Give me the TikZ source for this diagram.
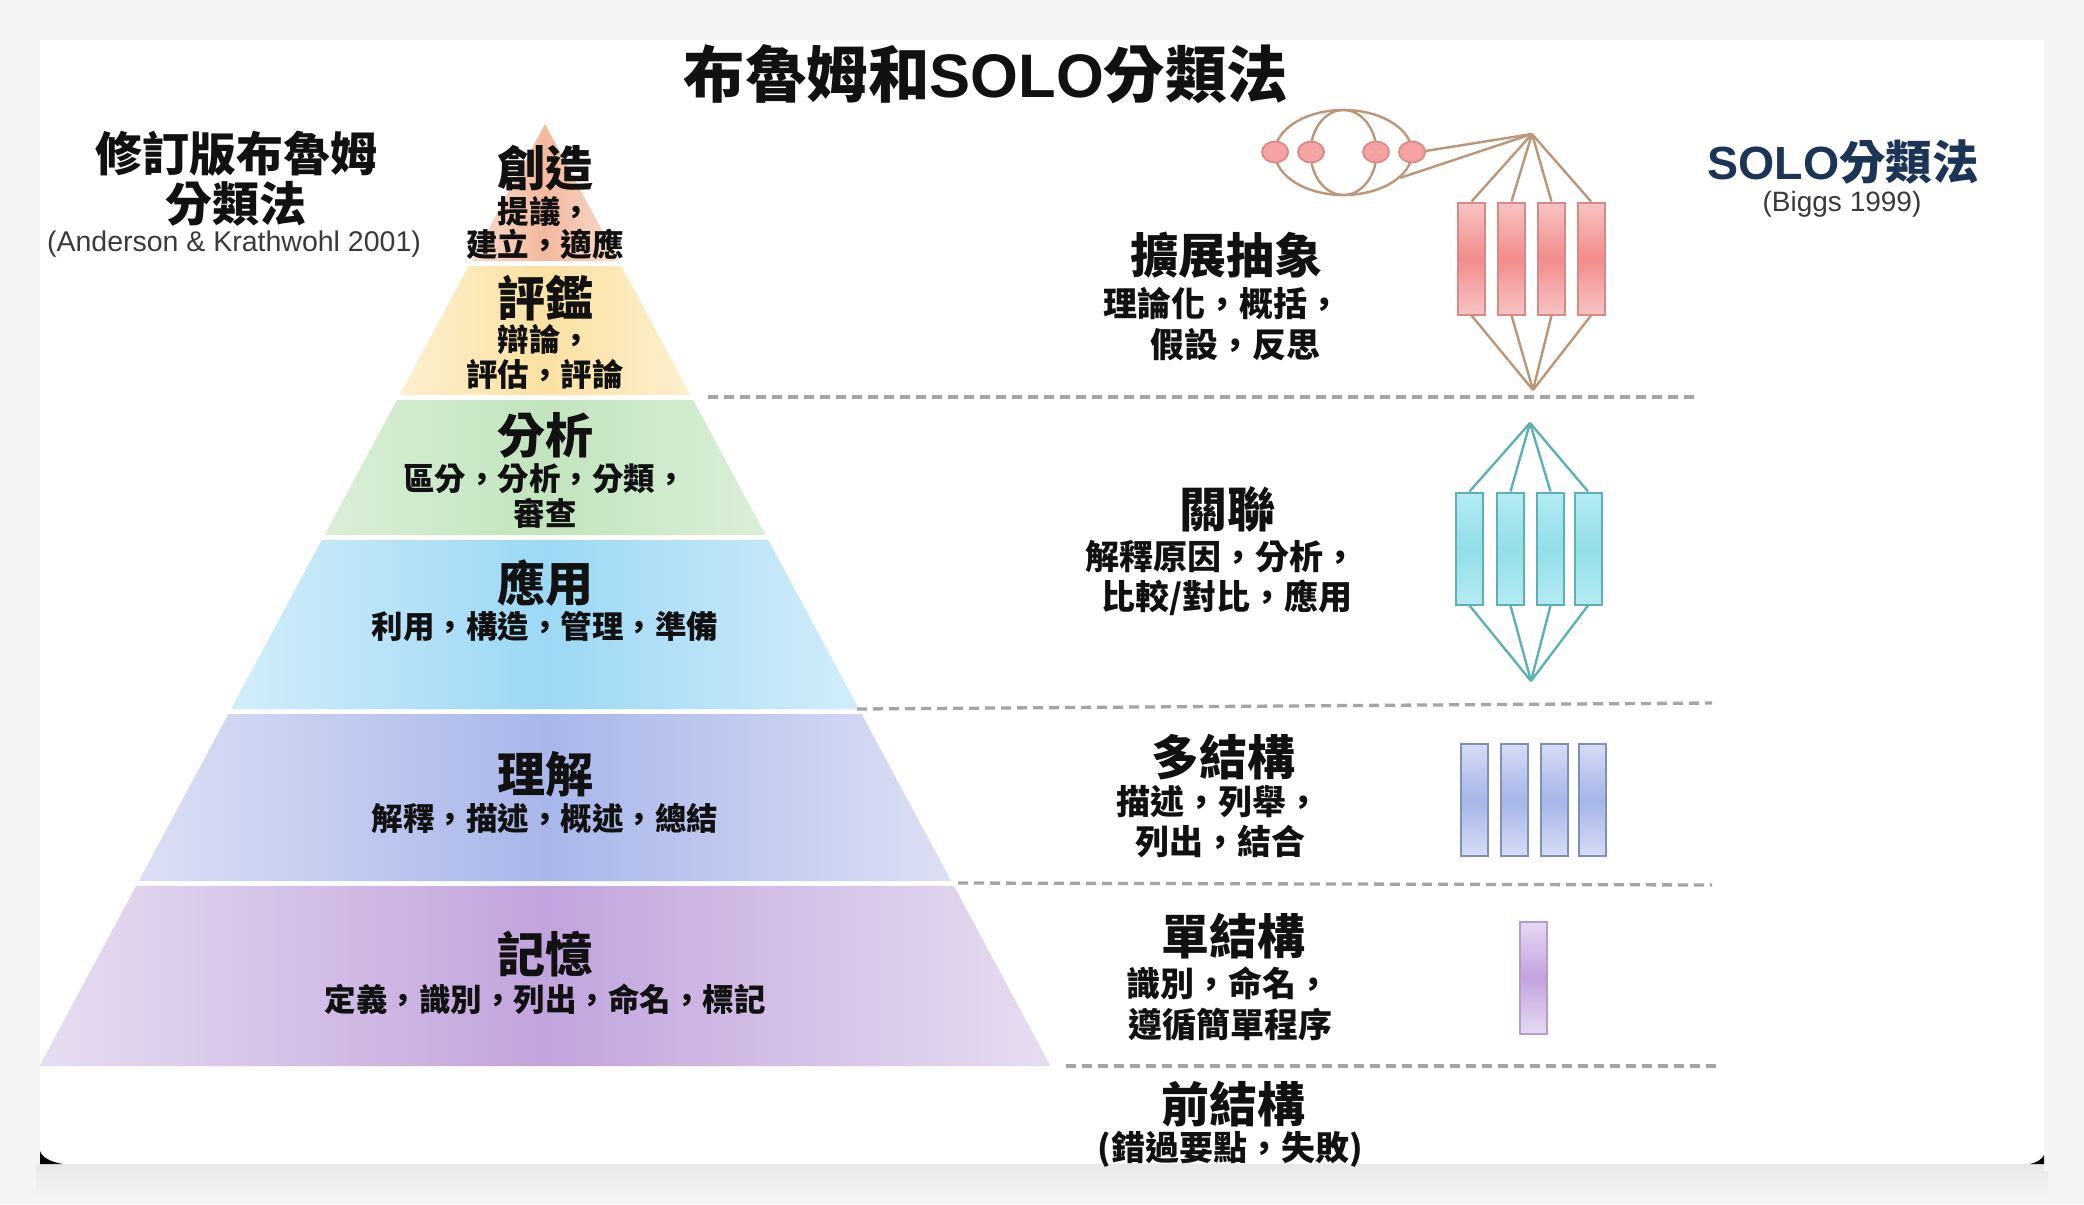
\documentclass[tikz,border=0pt]{standalone}
\usepackage{fontspec}
\setmainfont{Liberation Sans}
\newfontfamily\cjk{Noto Sans CJK TC}
\usetikzlibrary{shapes.geometric}
\definecolor{bgc}{HTML}{F4F4F4}
\definecolor{ink}{HTML}{111111}
\definecolor{creL}{HTML}{F8DCCD}\definecolor{creM}{HTML}{F3B99E}
\definecolor{evaL}{HTML}{FDF0CF}\definecolor{evaM}{HTML}{FBE1A2}
\definecolor{anaL}{HTML}{DAEFD8}\definecolor{anaM}{HTML}{C2E4BE}
\definecolor{appL}{HTML}{D2EDFA}\definecolor{appM}{HTML}{9CD8F5}
\definecolor{undL}{HTML}{DCE0F5}\definecolor{undM}{HTML}{A8B6EA}
\definecolor{remL}{HTML}{E7DDF1}\definecolor{remM}{HTML}{C1A4DD}
\definecolor{dashc}{HTML}{A5A5A5}
\definecolor{navy}{HTML}{1C3557}
\definecolor{citec}{HTML}{3A3A3A}
\definecolor{linetan}{HTML}{BC9676}
\definecolor{redE}{HTML}{F8C4C4}\definecolor{redM}{HTML}{F28C8C}\definecolor{redS}{HTML}{D88A86}
\definecolor{cyanE}{HTML}{B4EBF2}\definecolor{cyanM}{HTML}{92DEE8}\definecolor{cyanS}{HTML}{5FB0B6}
\definecolor{bluE}{HTML}{D5DCF5}\definecolor{bluM}{HTML}{A6B5E8}\definecolor{bluS}{HTML}{8090BA}
\definecolor{purE}{HTML}{E6D9F2}\definecolor{purM}{HTML}{C2A3E0}\definecolor{purS}{HTML}{B39DCB}
\begin{document}
\begin{tikzpicture}[x=1pt,y=-1pt,
  lvltitle/.style={inner sep=0pt, text=ink, font={\cjk\bfseries\fontsize{48}{50}\selectfont}},
  lvlsub/.style={inner sep=0pt, text=ink, font={\cjk\bfseries\fontsize{31.5}{33}\selectfont}},
  solosub/.style={inner sep=0pt, text=ink, font={\cjk\bfseries\fontsize{34}{36}\selectfont}},
  divider/.style={draw=dashc, line width=3.3pt, dash pattern=on 10pt off 6pt},
  bar/.style={rectangle, inner sep=0pt, line width=2pt, minimum width=27pt, minimum height=112pt},
  redbar/.style={bar, draw=redS, top color=redE, bottom color=redE, middle color=redM},
  cyanbar/.style={bar, draw=cyanS, top color=cyanE, bottom color=cyanE, middle color=cyanM},
  blubar/.style={bar, draw=bluS, top color=bluE, bottom color=bluE, middle color=bluM},
  purbar/.style={bar, draw=purS, top color=purE, bottom color=purE, middle color=purM},
  redfan/.style={draw=linetan, line width=2.4pt},
  cyanfan/.style={draw=cyanS, line width=2.4pt},
  dot/.style={ellipse, inner sep=0pt, minimum width=26pt, minimum height=21pt, draw=redS, fill=redM!80!white, line width=1.8pt}
]
\useasboundingbox (0,0) rectangle (2084,1204);
% background, shadow and card
\fill[bgc] (0,0) rectangle (2084,1204);
\shade[top color=black!9, bottom color=bgc] (36,1164) rectangle (2048,1198);
\shade[left color=black!4, right color=bgc] (2044,40) rectangle (2058,1170);
\fill[white] (40,40) rectangle (2044,1164);
\fill[black] (40,1151) -- (40,1164) -- (63,1164) .. controls (50,1162) and (42,1157) .. (40,1151) -- cycle;
\fill[black] (2044,1155) -- (2044,1164) -- (2030,1164) .. controls (2038,1162) and (2042,1159) .. (2044,1155) -- cycle;

% pyramid layers
\shade[left color=creL, right color=creL, middle color=creM] (545,124) -- (618.5,261) -- (471.5,261) -- cycle;
\shade[left color=evaL, right color=evaL, middle color=evaM] (468.8,266) -- (621.2,266) -- (690.4,395) -- (399.6,395) -- cycle;
\shade[left color=anaL, right color=anaL, middle color=anaM] (396.9,400) -- (693.1,400) -- (765.5,535) -- (324.5,535) -- cycle;
\shade[left color=appL, right color=appL, middle color=appM] (321.8,540) -- (768.2,540) -- (858.9,709) -- (231.1,709) -- cycle;
\shade[left color=undL, right color=undL, middle color=undM] (228.4,714) -- (861.6,714) -- (951.2,881) -- (138.8,881) -- cycle;
\shade[left color=remL, right color=remL, middle color=remM] (136.1,886) -- (953.9,886) -- (1050.5,1066) -- (39.5,1066) -- cycle;

% title and headings
\node[inner sep=0pt, text=ink, font={\cjk\bfseries\fontsize{61.5}{63}\selectfont}] (title) at (986,74) {布魯姆和{\rmfamily\bfseries SOLO}分類法};
\node[inner sep=0pt, text=ink, font={\cjk\bfseries\fontsize{47}{49}\selectfont}] (lhead1) at (236,154) {修訂版布魯姆};
\node[inner sep=0pt, text=ink, font={\cjk\bfseries\fontsize{47}{49}\selectfont}] (lhead2) at (236,204) {分類法};
\node[inner sep=0pt, text=citec, font={\fontsize{28.5}{30}\selectfont}] (lcite) at (234,244) {(Anderson \& Krathwohl 2001)};
\node[inner sep=0pt, text=navy, font={\cjk\bfseries\fontsize{46.5}{48}\selectfont}] (rhead) at (1843,162) {{\rmfamily\bfseries SOLO}分類法};
\node[inner sep=0pt, text=citec, font={\fontsize{28}{30}\selectfont}] (rcite) at (1842,204) {(Biggs 1999)};

% pyramid texts
\node[lvltitle] (p1t) at (545,168) {創造};
\node[lvltitle] (p2t) at (545,298) {評鑑};
\node[lvlsub] (p1a) at (545,212) {提議，};
\node[lvlsub] (p1b) at (545,244) {建立，適應};
\node[lvlsub] (p2a) at (545,339) {辯論，};
\node[lvlsub] (p2b) at (545,374) {評估，評論};
\node[lvltitle] (p3t) at (545,435) {分析};
\node[lvlsub] (p3a) at (545,479) {區分，分析，分類，};
\node[lvlsub] (p3b) at (545,513) {審查};
\node[lvltitle] (p4t) at (545,583) {應用};
\node[lvlsub] (p4a) at (545,627) {利用，構造，管理，準備};
\node[lvltitle] (p5t) at (545,774) {理解};
\node[lvlsub] (p5a) at (545,818) {解釋，描述，概述，總結};
\node[lvltitle] (p6t) at (545,954) {記憶};
\node[lvlsub] (p6a) at (545,999) {定義，識別，列出，命名，標記};

% dividers
\coordinate (d1a) at (708,397);  \coordinate (d1b) at (1700,397);
\coordinate (d2a) at (857,709);  \coordinate (d2b) at (1712,703);
\coordinate (d3a) at (958,883);  \coordinate (d3b) at (1712,885);
\coordinate (d4a) at (1066,1066);\coordinate (d4b) at (1722,1066);
\draw[divider] (d1a) -- (d1b);
\draw[divider] (d2a) -- (d2b);
\draw[divider] (d3a) -- (d3b);
\draw[divider] (d4a) -- (d4b);

% SOLO texts
\node[lvltitle] (s1t) at (1226,255) {擴展抽象};
\node[solosub] (s1a) at (1222,303) {理論化，概括，};
\node[solosub] (s1b) at (1235,345) {假設，反思};
\node[lvltitle] (s2t) at (1227,509) {關聯};
\node[solosub] (s2a) at (1221,557) {解釋原因，分析，};
\node[solosub] (s2b) at (1227,598) {比較/對比，應用};
\node[lvltitle] (s3t) at (1223,757) {多結構};
\node[solosub] (s3a) at (1218,802) {描述，列舉，};
\node[solosub] (s3b) at (1220,842) {列出，結合};
\node[lvltitle] (s4t) at (1233,936) {單結構};
\node[solosub] (s4a) at (1228,983) {識別，命名，};
\node[solosub] (s4b) at (1230,1024) {遵循簡單程序};
\node[lvltitle] (s5t) at (1233,1104) {前結構};
\node[solosub] (s5a) at (1230,1149) {(錯過要點，失敗)};

% extended abstract diagram
\node[ellipse, draw=linetan, line width=2.4pt, inner sep=0pt, minimum width=137pt, minimum height=85pt] (globe) at (1343.5,152.5) {};
\node[ellipse, draw=linetan, line width=2.4pt, inner sep=0pt, minimum width=66pt, minimum height=85pt] (meridian) at (1343.5,152.5) {};
\coordinate (ea) at (1532,134);
\coordinate (eb) at (1533,390);
\draw[redfan] (ea) -- (1425.5,151);
\draw[redfan] (ea) -- (globe.-24);
\node[dot] (c1) at (1275,152) {};
\node[dot] (c2) at (1311,152) {};
\node[dot] (c3) at (1376,152) {};
\node[dot] (c4) at (1412,152) {};
\foreach \i/\x in {1/1471.5,2/1511.5,3/1551.5,4/1591}{
  \node[redbar] (r\i) at (\x,258.5) {};
  \draw[redfan] (ea) -- (r\i.north);
  \draw[redfan] (r\i.south) -- (eb);
}

% relational diagram
\coordinate (ra) at (1530,423);
\coordinate (rb) at (1531,681);
\foreach \i/\x in {1/1469.5,2/1510.5,3/1550.5,4/1588}{
  \node[cyanbar] (q\i) at (\x,548.5) {};
  \draw[cyanfan] (ra) -- (q\i.north);
  \draw[cyanfan] (q\i.south) -- (rb);
}

% multistructural diagram
\foreach \i/\x in {1/1474.5,2/1514.5,3/1554.5,4/1592.5}{
  \node[blubar] (m\i) at (\x,800) {};
}

% unistructural diagram
\node[purbar] (u1) at (1533,977.5) {};
\end{tikzpicture}
\end{document}
